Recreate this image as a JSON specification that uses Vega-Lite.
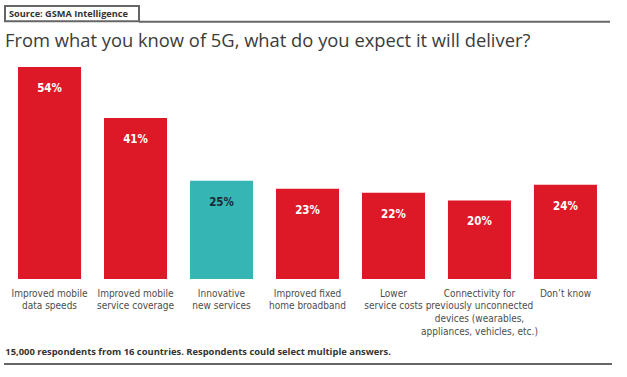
{
  "$schema": "https://vega.github.io/schema/vega-lite/v6.json",
  "width": 602,
  "height": 212,
  "autosize": "none",
  "padding": {"left": 6.5, "top": 67, "right": 18.5, "bottom": 98},
  "background": "white",
  "config": {"view": {"stroke": null}},
  "layer": [
    {
      "data": {
        "values": [
          {"category": "Improved mobile\ndata speeds", "share": 0.54, "group": "standard"},
          {"category": "Improved mobile\nservice coverage", "share": 0.41, "group": "standard"},
          {"category": "Innovative\nnew services", "share": 0.25, "group": "highlight"},
          {"category": "Improved fixed\nhome broadband", "share": 0.23, "group": "standard"},
          {"category": "Lower\nservice costs", "share": 0.22, "group": "standard"},
          {"category": "Connectivity for\npreviously unconnected\ndevices (wearables,\nappliances, vehicles, etc.)", "share": 0.20, "group": "standard"},
          {"category": "Don’t know", "share": 0.24, "group": "standard"}
        ]
      },
      "encoding": {
        "x": {
          "field": "category",
          "type": "nominal",
          "sort": null,
          "scale": {"paddingInner": 0.267, "paddingOuter": 0.134},
          "axis": {
            "title": "15,000 respondents from 16 countries. Respondents could select multiple answers.",
            "labelExpr": "split(datum.value, '\\n')",
            "labelAngle": 0,
            "domain": false,
            "ticks": false,
            "labelFont": "DejaVu Sans Condensed",
            "labelFontSize": 10,
            "labelColor": "#4d4d4d",
            "labelLineHeight": 12.7,
            "labelPadding": 9,
            "labelBaseline": "top",
            "labelOverlap": false,
            "labelBound": false,
            "labelLimit": 300,
            "titleFont": "Open Sans",
            "titleFontWeight": "bold",
            "titleFontSize": 9.4,
            "titleColor": "#333333",
            "titleAnchor": "start",
            "titleAlign": "left",
            "titleBaseline": "middle",
            "titleX": -1.7,
            "titleY": 72
          }
        },
        "y": {
          "field": "share",
          "type": "quantitative",
          "scale": {"domain": [0, 0.54], "nice": false},
          "axis": null
        }
      },
      "layer": [
        {
          "mark": {"type": "bar"},
          "encoding": {
            "color": {
              "field": "group",
              "type": "nominal",
              "scale": {"domain": ["standard", "highlight"], "range": ["#DE1927", "#35B5B3"]},
              "legend": null
            }
          }
        },
        {
          "mark": {
            "type": "text",
            "dy": 22,
            "baseline": "middle",
            "align": "center",
            "font": "DejaVu Sans Condensed",
            "fontWeight": "bold",
            "fontSize": 11.5
          },
          "encoding": {
            "text": {"field": "share", "type": "quantitative", "format": ".0%"},
            "color": {
              "field": "group",
              "type": "nominal",
              "scale": {"domain": ["standard", "highlight"], "range": ["#ffffff", "#1B2A3A"]},
              "legend": null
            }
          }
        }
      ],
      "resolve": {"scale": {"color": "independent"}}
    },
    {
      "layer": [
        {
          "data": {"values": [{"left": -1.5, "right": 132.5, "top": 0.6954, "bottom": 0.6564}]},
          "mark": {"type": "rect", "fill": "white", "stroke": "#666666", "strokeWidth": 2},
          "encoding": {
            "x": {"field": "left", "type": "quantitative", "scale": {"domain": [0, 602], "nice": false, "zero": false}, "axis": null},
            "x2": {"field": "right"},
            "y": {"field": "top", "type": "quantitative", "scale": {"domain": [0, 0.54], "nice": false}, "axis": null},
            "y2": {"field": "bottom"}
          }
        },
        {
          "data": {"values": [{"left": 132.5, "right": 603.5, "level": 0.6554}, {"left": -2.5, "right": 605.5, "level": -0.2165}]},
          "mark": {"type": "rule", "stroke": "#666666", "strokeWidth": 2},
          "encoding": {
            "x": {"field": "left", "type": "quantitative", "scale": {"domain": [0, 602], "nice": false, "zero": false}, "axis": null},
            "x2": {"field": "right"},
            "y": {"field": "level", "type": "quantitative", "scale": {"domain": [0, 0.54], "nice": false}, "axis": null}
          }
        },
        {
          "data": {"values": [{"pos": 2.5, "level": 0.675, "label": "Source: GSMA Intelligence"}]},
          "mark": {"type": "text", "align": "left", "baseline": "middle", "font": "Open Sans", "fontWeight": "bold", "fontSize": 9.2, "color": "#333333"},
          "encoding": {
            "x": {"field": "pos", "type": "quantitative", "scale": {"domain": [0, 602], "nice": false, "zero": false}, "axis": null},
            "y": {"field": "level", "type": "quantitative", "scale": {"domain": [0, 0.54], "nice": false}, "axis": null},
            "text": {"field": "label"}
          }
        },
        {
          "data": {"values": [{"pos": -1.5, "level": 0.5909, "label": "From what you know of 5G, what do you expect it will deliver?"}]},
          "mark": {"type": "text", "align": "left", "baseline": "alphabetic", "font": "Open Sans", "fontWeight": "normal", "fontSize": 18.35, "color": "#3b3b3b"},
          "encoding": {
            "x": {"field": "pos", "type": "quantitative", "scale": {"domain": [0, 602], "nice": false, "zero": false}, "axis": null},
            "y": {"field": "level", "type": "quantitative", "scale": {"domain": [0, 0.54], "nice": false}, "axis": null},
            "text": {"field": "label"}
          }
        }
      ]
    }
  ],
  "resolve": {"scale": {"x": "independent"}}
}
